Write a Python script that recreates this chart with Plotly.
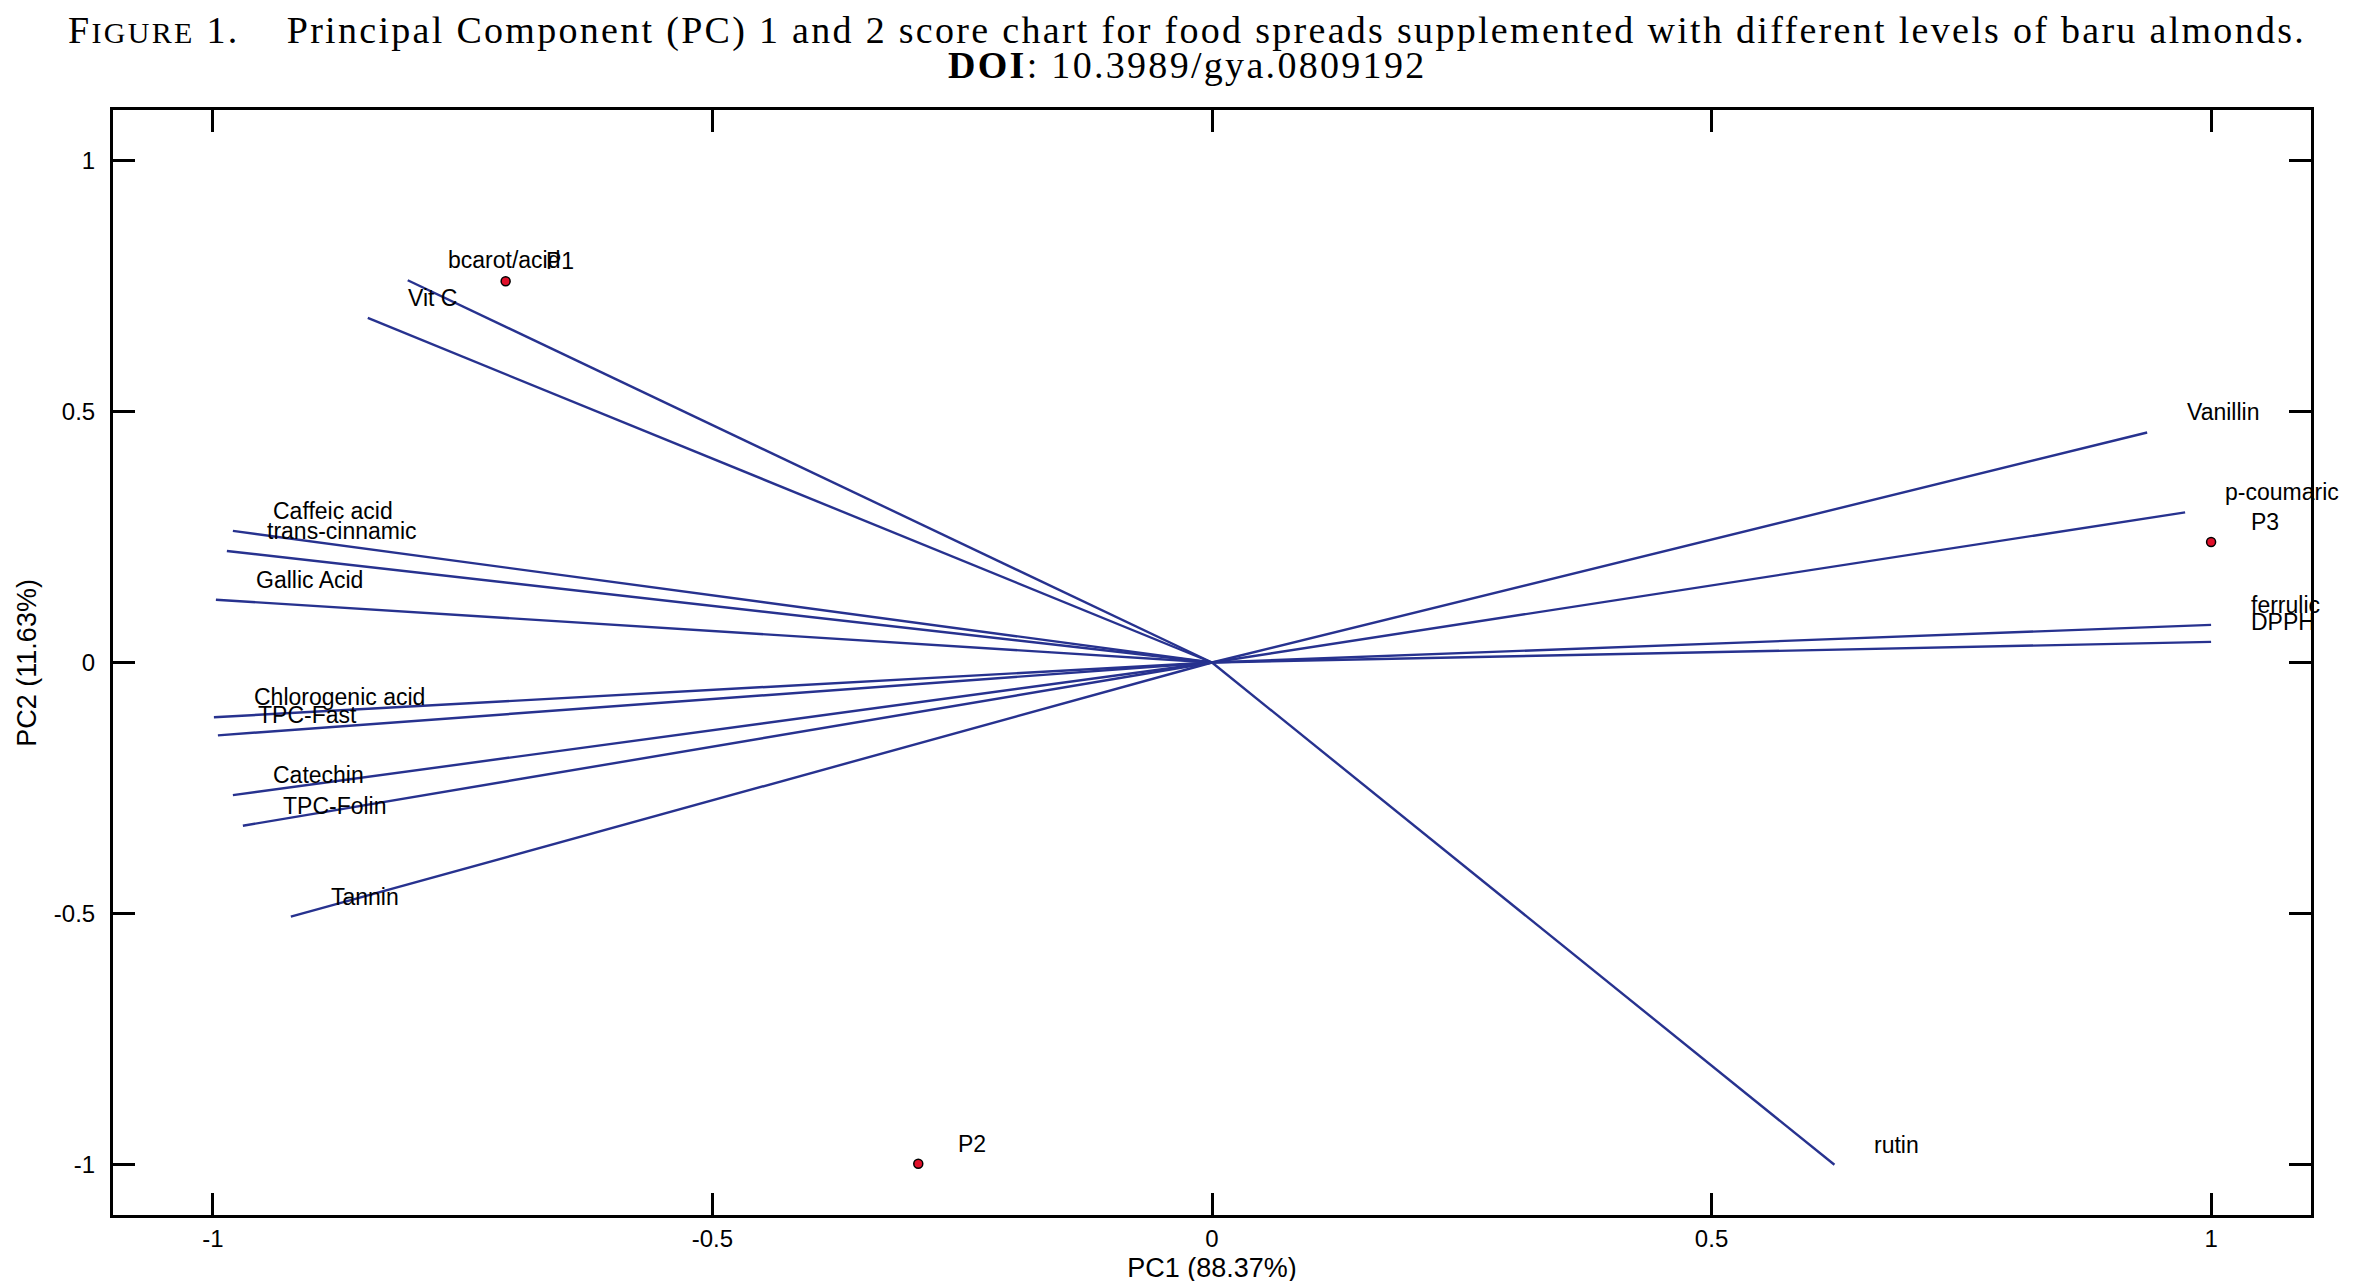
import plotly.graph_objects as go

# ── Data ───────────────────────────────────────────────────────────────────────
var_names = ["bcarot/acid", "Vit C", "Caffeic acid", "trans-cinnamic", "Gallic Acid",
             "Chlorogenic acid", "TPC-Fast", "Catechin", "TPC-Folin", "Tannin",
             "Vanillin", "p-coumaric", "ferrulic", "DPPH", "rutin"]
var_pc1 = [-0.805, -0.845, -0.980, -0.986, -0.997,
           -0.999, -0.995, -0.980, -0.970, -0.922,
           0.936, 0.974, 1.000, 1.000, 0.623]
var_pc2 = [0.761, 0.686, 0.262, 0.222, 0.125,
           -0.109, -0.145, -0.264, -0.325, -0.506,
           0.458, 0.299, 0.075, 0.041, -1.000]

sample_names = ["P1", "P2", "P3"]
sample_pc1 = [-0.707, -0.294, 1.000]
sample_pc2 = [0.759, -0.998, 0.240]

tick_vals = [-1, -0.5, 0, 0.5, 1]
tick_text = ["-1", "-0.5", "0", "0.5", "1"]

LINE_BLUE = "#27328f"
SANS = "Liberation Sans, Arial, sans-serif"
SERIF = "Liberation Serif, Times New Roman, serif"
WIDE = "letter-spacing:2.3px"   # the caption in the source is set wide

# ── Figure ─────────────────────────────────────────────────────────────────────
fig = go.Figure()

# loading vectors: origin -> (pc1, pc2)
lx, ly = [], []
for x, y in zip(var_pc1, var_pc2):
    lx += [0, x, None]
    ly += [0, y, None]
fig.add_trace(go.Scatter(x=lx, y=ly, mode="lines",
                         line=dict(color=LINE_BLUE, width=2.4),
                         hoverinfo="skip", showlegend=False))

# sample scores
fig.add_trace(go.Scatter(x=sample_pc1, y=sample_pc2, mode="markers",
                         marker=dict(color="#e0102a", size=9,
                                     line=dict(color="black", width=1.5)),
                         text=sample_names, showlegend=False))

# labels next to vector tips and points
for name, x, y in list(zip(var_names, var_pc1, var_pc2)) + \
        list(zip(sample_names, sample_pc1, sample_pc2)):
    fig.add_annotation(x=x, y=y, text=name, showarrow=False,
                       xanchor="left", yanchor="middle",
                       xshift=38, yshift=20,
                       font=dict(family=SANS, size=23, color="black"))

# figure caption (centred on the page, not on the plot area)
fig.add_annotation(
    xref="paper", yref="paper", x=0.4886, y=1.0715, xanchor="center", yanchor="middle",
    text=f"<span style='{WIDE}'>F</span>"
         f"<span style='font-size:30px;{WIDE}'>IGURE</span>"
         f"<span style='{WIDE}'> 1.&nbsp;&nbsp;&nbsp;&nbsp;"
         "Principal Component (PC) 1 and 2 score chart for food spreads "
         "supplemented with different levels of baru almonds.</span>",
    showarrow=False, font=dict(family=SERIF, size=38, color="black"))
fig.add_annotation(
    xref="paper", yref="paper", x=0.4886, y=1.0405, xanchor="center", yanchor="middle",
    text=f"<span style='{WIDE}'><b>DOI</b>: 10.3989/gya.0809192</span>",
    showarrow=False, font=dict(family=SERIF, size=38, color="black"))

# y axis title placed by hand, close to the page edge
fig.add_annotation(
    xref="paper", yref="paper", x=-0.0395, y=0.5, xanchor="center", yanchor="middle",
    text="PC2 (11.63%)", textangle=-90, showarrow=False,
    font=dict(family=SANS, size=27, color="black"))

axis_style = dict(
    range=[-1.1, 1.1], tickvals=tick_vals, ticktext=tick_text,
    showgrid=False, zeroline=False, showline=True, linecolor="black",
    linewidth=3, mirror="ticks", ticks="inside", ticklen=22, tickwidth=2.5,
    tickcolor="black", tickfont=dict(family=SANS, size=24, color="black"),
    automargin=False,
)

fig.update_layout(
    width=2358, height=1281,
    margin=dict(l=105, r=55, t=102, b=74, autoexpand=False),
    paper_bgcolor="white", plot_bgcolor="white",
    xaxis=dict(**axis_style,
               title=dict(text="PC1 (88.37%)", standoff=8,
                          font=dict(family=SANS, size=27, color="black"))),
    yaxis=dict(**axis_style, ticklabelstandoff=10),
)

fig.write_html("out.html")
